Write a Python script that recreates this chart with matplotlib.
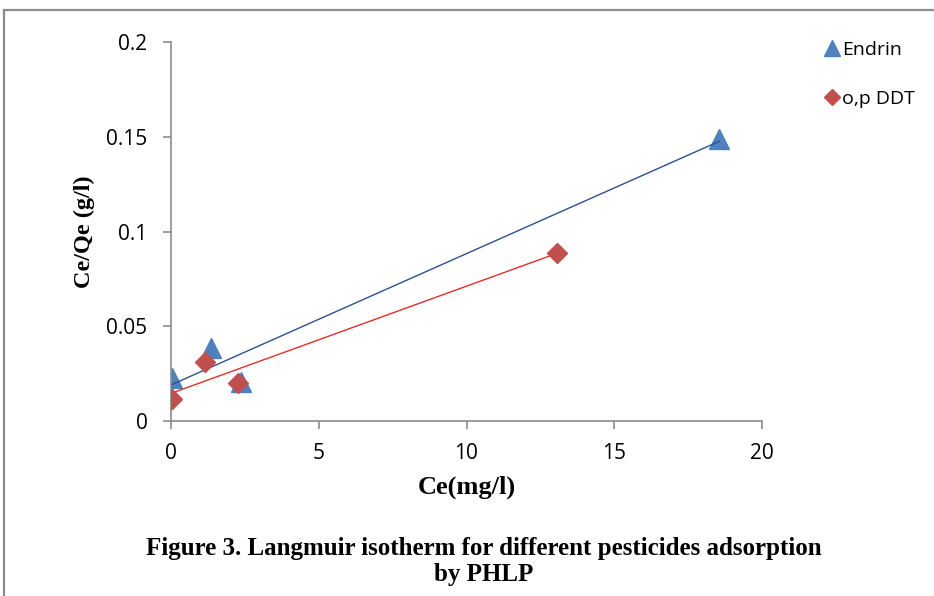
import numpy as np
import matplotlib
matplotlib.use("Agg")
import matplotlib.pyplot as plt
from matplotlib.patches import Rectangle

endrin_x = [0.05, 1.35, 2.36, 18.55]
endrin_y = [0.0228, 0.0386, 0.0206, 0.1487]
ddt_x = [0.05, 1.15, 2.26, 13.07]
ddt_y = [0.0116, 0.0312, 0.0201, 0.0889]

x_ticks = [0, 5, 10, 15, 20]
y_ticks = [0, 0.05, 0.1, 0.15, 0.2]
y_tick_labels = ["0", "0.05", "0.1", "0.15", "0.2"]

fig = plt.figure(figsize=(9.34, 5.96), dpi=100)
fig.add_artist(Rectangle((4/934, -0.05), 1.2, 1 - 10/596 + 0.05,
                         transform=fig.transFigure, fill=False,
                         edgecolor="#8c8c8c", linewidth=1.6))
ax = fig.add_axes([171/934, 1 - 421/596, 591/934, 379/596])

gray = "#8c8c8c"
tick_font = {"family": "Open Sans", "size": 15}

# trendlines
for xs, ys, col in [(endrin_x, endrin_y, "#2F4F8F"), (ddt_x, ddt_y, "#E0302A")]:
    m, b = np.polyfit(xs, ys, 1)
    xl = np.array([min(xs), max(xs)])
    ax.plot(xl, m * xl + b, color=col, linewidth=1.0, zorder=3)

ax.plot(endrin_x, endrin_y, linestyle="none", marker="^", markersize=14,
        color="#4F81BD", label="Endrin", zorder=2)
ax.plot(ddt_x, ddt_y, linestyle="none", marker="D", markersize=10,
        color="#C0504D", label="o,p DDT", zorder=4)

ax.set_xlim(0, 20)
ax.set_ylim(0, 0.2)
ax.set_xticks(x_ticks)
ax.set_xticklabels([str(t) for t in x_ticks], **tick_font)
ax.set_yticks(y_ticks)
ax.set_yticklabels(y_tick_labels, **tick_font)
for s in ["top", "right"]:
    ax.spines[s].set_visible(False)
for s in ["left", "bottom"]:
    ax.spines[s].set_color(gray)
    ax.spines[s].set_linewidth(1.2)
ax.tick_params(axis="both", colors=gray, labelcolor="black", length=6, width=1.2)
ax.tick_params(axis="y", pad=11)
ax.tick_params(axis="x", pad=10)

ax.set_xlabel("Ce(mg/l)", family="Liberation Serif", weight="bold", size=19, labelpad=8)
ax.set_ylabel("Ce/Qe (g/l)", family="Liberation Serif", weight="bold", size=17.5, labelpad=8)

leg = ax.legend(loc="upper left", bbox_to_anchor=(1.07, 1.05), frameon=False,
                prop={"family": "Open Sans", "size": 14}, handletextpad=0.0,
                labelspacing=1.6, handlelength=1.1, markerscale=0.8)

cx = 484 / 934
fig.text(cx, 1 - 548/596, "Figure 3. Langmuir isotherm for different pesticides adsorption",
         ha="center", va="center", family="Liberation Serif", weight="bold", size=18)
fig.text(cx, 1 - 575/596, "by PHLP", ha="center", va="center",
         family="Liberation Serif", weight="bold", size=18)

fig.savefig("out.png", dpi=100)
